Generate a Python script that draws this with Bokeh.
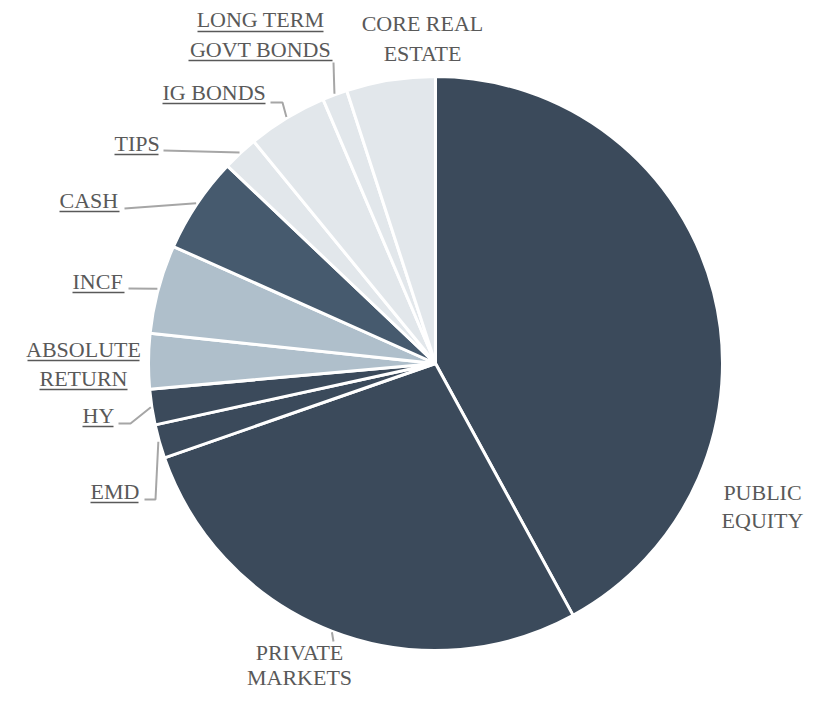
import numpy as np
from bokeh.plotting import figure
from bokeh.models import Range1d, ColumnDataSource
from bokeh.core.properties import value
from bokeh.embed import file_html
from bokeh.resources import INLINE

# ---- data (clockwise from 12 o'clock) ----
categories = ["PUBLIC EQUITY", "PRIVATE MARKETS", "EMD", "HY", "ABSOLUTE RETURN",
              "INCF", "CASH", "TIPS", "IG BONDS", "LONG TERM GOVT BONDS", "CORE REAL ESTATE"]
weights = [42.0, 27.6, 1.9, 2.0, 3.1, 5.0, 5.4, 2.0, 4.5, 1.4, 5.0]
colors = ["#3B4A5B", "#3B4A5B", "#3B4A5B", "#3B4A5B", "#AFBFCB",
          "#AFBFCB", "#465A6E", "#E2E7EB", "#E2E7EB", "#E2E7EB", "#E2E7EB"]

W, H = 812, 693
def X(px):
    return px
def Y(py):          # screen y -> data y (marks)
    return H - py
def TY(py):         # screen baseline -> data y (text)
    return H - (py - 8)

CX, CY, R = X(435), Y(363), 287

w = np.array(weights) / sum(weights)
cum = np.concatenate([[0], np.cumsum(w)])
start = np.pi / 2 - cum[:-1] * 2 * np.pi
end = np.pi / 2 - cum[1:] * 2 * np.pi
mid = (start + end) / 2

p = figure(width=W, height=H, x_range=Range1d(0, W), y_range=Range1d(0, H),
           output_backend="svg", toolbar_location=None, min_border=0)
p.axis.visible = False
p.grid.visible = False
p.outline_line_color = None
p.background_fill_color = "white"

src = ColumnDataSource(dict(start=start, end=end, color=colors, cat=categories))
p.wedge(x=CX, y=CY, radius=R, start_angle="start", end_angle="end",
        direction="clock", fill_color="color", line_color="white", line_width=3, source=src)

TXT = "#595959"
LEAD = "#A6A6A6"
FONT = value("Liberation Serif")

# label layout: (category, lines, align, x, baselines, underlines[(x0,x1,y)])
labels = [
    ("LONG TERM GOVT BONDS", ["LONG TERM", "GOVT BONDS"], "center", 260, [27, 57],
     [(197, 323, 31), (188, 332, 60)]),
    ("CORE REAL ESTATE", ["CORE REAL", "ESTATE"], "center", 422, [31, 61], []),
    ("IG BONDS", ["IG BONDS"], "left", 162, [100], [(162, 265, 103)]),
    ("TIPS", ["TIPS"], "left", 114, [151], [(114, 158, 154)]),
    ("CASH", ["CASH"], "left", 59, [208], [(59, 119, 211)]),
    ("INCF", ["INCF"], "left", 72, [289], [(72, 124, 292)]),
    ("ABSOLUTE RETURN", ["ABSOLUTE", "RETURN"], "center", 83, [357, 386],
     [(27, 139, 360), (39, 127, 389)]),
    ("HY", ["HY"], "left", 82, [423], [(82, 113, 426)]),
    ("EMD", ["EMD"], "left", 90, [499], [(90, 138, 502)]),
    ("PUBLIC EQUITY", ["PUBLIC", "EQUITY"], "center", 762, [500, 528], []),
    ("PRIVATE MARKETS", ["PRIVATE", "MARKETS"], "center", 299, [660, 685], []),
]

for cat, lines, align, x, bls, uls in labels:
    p.text(x=[X(x)] * len(lines), y=[TY(b) for b in bls], text=lines,
           text_font=FONT, text_font_size="22px", text_color=TXT,
           text_align=align, text_baseline="alphabetic")
    for x0, x1, yy in uls:
        p.line([X(x0), X(x1)], [Y(yy), Y(yy)], line_color=TXT, line_width=1.3)

# leader lines: label-side points, ending at the slice's mid-angle on the rim
leaders = {
    "LONG TERM GOVT BONDS": [(333, 62)],
    "IG BONDS": [(270, 102), (282, 102)],
    "TIPS": [(163, 150)],
    "CASH": [(124, 208)],
    "INCF": [(128, 288)],
    "HY": [(118, 423), (130, 423)],
    "EMD": [(144, 499), (155, 499)],
    "PRIVATE MARKETS": [(333, 641)],
}
for cat, pts in leaders.items():
    i = categories.index(cat)
    ex = CX + (R + 1) * np.cos(mid[i])
    ey = CY + (R + 1) * np.sin(mid[i])
    xs = [X(a) for a, b in pts] + [ex]
    ys = [Y(b) for a, b in pts] + [ey]
    p.line(xs, ys, line_color=LEAD, line_width=2)

open("out.html", "w").write(file_html(p, INLINE))
